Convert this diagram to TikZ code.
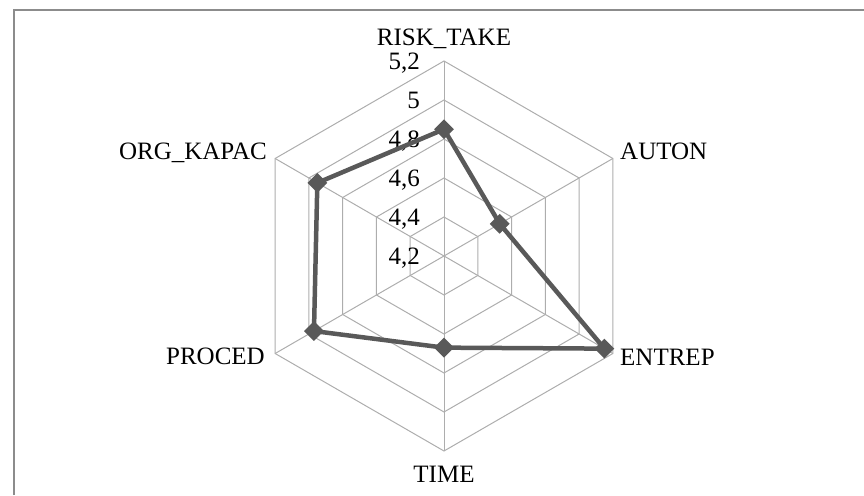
\documentclass[tikz,border=0pt]{standalone}
\usepackage{fontspec}
\setmainfont{Liberation Serif}
\usetikzlibrary{shapes.geometric}
\definecolor{gridgray}{HTML}{ADADAD}
\definecolor{seriesgray}{HTML}{595959}
\definecolor{framegray}{HTML}{8C8C8C}
\begin{document}
\begin{tikzpicture}[x=1pt,y=1pt,
  font=\fontsize{25}{29}\selectfont,
  grid/.style={draw=gridgray, line width=1pt},
  series/.style={draw=seriesgray, line width=4.5pt, line join=round},
  marker/.style={diamond, fill=seriesgray, inner sep=0pt, minimum size=20pt},
  axislabel/.style={inner sep=0pt},
  ticklabel/.style={inner sep=0pt, anchor=base east}]
\useasboundingbox (0,0) rectangle (864,495);
\draw[framegray, line width=2pt] (14,0) -- (14,485) -- (864,485);
\coordinate (O) at (444,239);
% rings
\foreach \r in {39,78,117,156,195}{
  \draw[grid] ([shift={(90:\r)}]O) -- ([shift={(30:\r)}]O) -- ([shift={(-30:\r)}]O)
    -- ([shift={(-90:\r)}]O) -- ([shift={(-150:\r)}]O) -- ([shift={(150:\r)}]O) -- cycle;
}
% spokes
\foreach \a/\n in {90/v1,30/v2,-30/v3,-90/v4,-150/v5,150/v6}{
  \coordinate (\n) at ([shift={(\a:195)}]O);
  \draw[grid] (O) -- (\n);
}
% tick labels
\node[ticklabel] (t0) at (420,230.5) {4,2};
\node[ticklabel] (t1) at (420,269.5) {4,4};
\node[ticklabel] (t2) at (420,308.5) {4,6};
\node[ticklabel] (t3) at (420,347.5) {4,8};
\node[ticklabel] (t4) at (420,386.5) {5};
\node[ticklabel] (t5) at (420,425.5) {5,2};
% data
\coordinate (p1) at ([shift={(90:126.75)}]O);
\coordinate (p2) at ([shift={(30:64.35)}]O);
\coordinate (p3) at ([shift={(-30:185.25)}]O);
\coordinate (p4) at ([shift={(-90:91.65)}]O);
\coordinate (p5) at ([shift={(-150:150.15)}]O);
\coordinate (p6) at ([shift={(150:146.25)}]O);
\draw[series] (p1) -- (p2) -- (p3) -- (p4) -- (p5) -- (p6) -- cycle;
\foreach \i in {1,...,6}{ \node[marker] (m\i) at (p\i) {}; }
% axis labels
\node[axislabel, anchor=base] (l1) at (444,449) {RISK\_TAKE};
\node[axislabel, anchor=base west] (l2) at (620,335) {AUTON};
\node[axislabel, anchor=base west] (l3) at (620,129.5) {ENTREP};
\node[axislabel, anchor=base] (l4) at (444,12.3) {TIME};
\node[axislabel, anchor=base east] (l5) at (265,130) {PROCED};
\node[axislabel, anchor=base east] (l6) at (267,335) {ORG\_KAPAC};
\end{tikzpicture}
\end{document}
